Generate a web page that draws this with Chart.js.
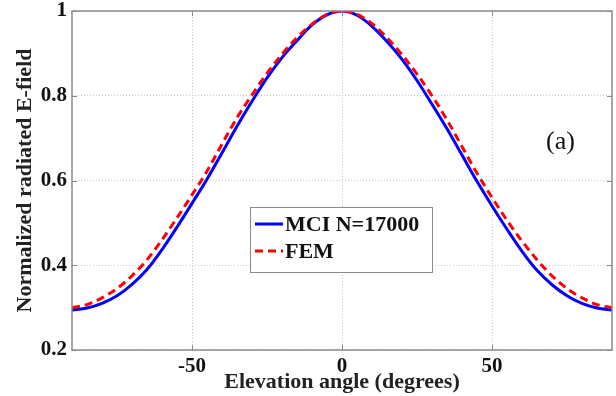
<!DOCTYPE html>
<html>
<head>
<meta charset="utf-8">
<script src="https://cdn.jsdelivr.net/npm/chart.js@4"></script>
<style>
  html, body { margin: 0; padding: 0; background: #fff; }
  #wrap { width: 616px; height: 396px; }
</style>
</head>
<body>
<div id="wrap"><canvas id="myChart" width="616" height="396"></canvas></div>
<script>
// elevation angle (degrees), every 5 deg
const angles = [-90, -85, -80, -75, -70, -65, -60, -55, -50, -45, -40, -35, -30, -25, -20, -15, -10, -5,
    0, 5, 10, 15, 20, 25, 30, 35, 40, 45, 50, 55, 60, 65, 70, 75, 80, 85, 90];

const mciValues = [0.294, 0.299, 0.310, 0.328, 0.355, 0.390, 0.437, 0.490, 0.546, 0.603, 0.665, 0.728, 0.787, 0.842, 0.890, 0.930, 0.967, 0.991,
    1.000, 0.990, 0.964, 0.928, 0.886, 0.836, 0.780, 0.722, 0.660, 0.598, 0.540, 0.485, 0.433, 0.388, 0.354, 0.328, 0.310, 0.299, 0.294];

const femValues = [0.300, 0.307, 0.323, 0.345, 0.375, 0.413, 0.460, 0.512, 0.566, 0.622, 0.686, 0.748, 0.802, 0.853, 0.898, 0.937, 0.969, 0.992,
    1.000, 0.992, 0.970, 0.937, 0.897, 0.851, 0.800, 0.743, 0.680, 0.617, 0.560, 0.506, 0.457, 0.413, 0.375, 0.345, 0.323, 0.307, 0.300];

const seriesLabels = ['MCI N=17000', 'FEM'];
const xTicks = [-50, 0, 50];
const yTicks = [0.2, 0.4, 0.6, 0.8, 1];

const serif = '"Liberation Serif", "Times New Roman", serif';
const frameColor = '#8a8a8a';

const toPoints = vals => angles.map((a, i) => ({ x: a, y: vals[i] }));

// box round the plot, inward ticks, legend and panel tag
const framePlugin = {
    id: 'frame',
    afterDraw(chart) {
        const { ctx, chartArea: a, scales } = chart;
        ctx.save();
        ctx.strokeStyle = frameColor;
        ctx.lineWidth = 1.5;
        ctx.setLineDash([]);
        ctx.strokeRect(a.left, a.top, a.right - a.left, a.bottom - a.top);

        ctx.lineWidth = 1;
        xTicks.forEach(v => {
            const px = Math.round(scales.x.getPixelForValue(v)) + 0.5;
            ctx.beginPath();
            ctx.moveTo(px, a.bottom); ctx.lineTo(px, a.bottom - 5);
            ctx.moveTo(px, a.top); ctx.lineTo(px, a.top + 5);
            ctx.stroke();
        });
        yTicks.forEach(v => {
            const py = Math.round(scales.y.getPixelForValue(v)) + 0.5;
            ctx.beginPath();
            ctx.moveTo(a.left, py); ctx.lineTo(a.left + 5, py);
            ctx.moveTo(a.right, py); ctx.lineTo(a.right - 5, py);
            ctx.stroke();
        });

        // legend
        const lx = 250, ly = 207, lw = 182, lh = 65;
        ctx.fillStyle = '#fff';
        ctx.fillRect(lx, ly, lw, lh);
        ctx.strokeStyle = frameColor;
        ctx.strokeRect(lx + 0.5, ly + 0.5, lw, lh);
        ctx.font = 'bold 22px ' + serif;
        ctx.textBaseline = 'middle';
        ctx.textAlign = 'left';
        const rows = [224, 251];
        [0, 1].forEach(i => {
            const ds = chart.data.datasets[i];
            ctx.strokeStyle = ds.borderColor;
            ctx.lineWidth = ds.borderWidth;
            ctx.setLineDash(ds.borderDash || []);
            ctx.beginPath();
            ctx.moveTo(lx + 5, rows[i]); ctx.lineTo(lx + 33, rows[i]);
            ctx.stroke();
            ctx.fillStyle = '#111';
            ctx.fillText(ds.label, lx + 35, rows[i] + 1);
        });

        ctx.font = '26px ' + serif;
        ctx.fillStyle = '#111';
        ctx.fillText('(a)', 546, 142);
        ctx.restore();
    }
};

const ctx = document.querySelector('#myChart').getContext('2d');
new Chart(ctx, {
    type: 'line',
    data: {
        datasets: [{
            label: seriesLabels[0],
            data: toPoints(mciValues),
            borderColor: '#0000ff',
            borderWidth: 3,
            pointRadius: 0,
            cubicInterpolationMode: 'monotone',
            order: 1
        }, {
            label: seriesLabels[1],
            data: toPoints(femValues),
            borderColor: '#ff0000',
            borderWidth: 3,
            borderDash: [8, 5],
            pointRadius: 0,
            cubicInterpolationMode: 'monotone',
            order: 0
        }]
    },
    options: {
        responsive: false,
        animation: false,
        layout: { padding: { top: 11, right: 4, left: 0, bottom: 0 } },
        plugins: {
            legend: { display: false },
            tooltip: { enabled: false }
        },
        scales: {
            x: {
                type: 'linear',
                min: -90,
                max: 90,
                afterBuildTicks: s => { s.ticks = xTicks.map(v => ({ value: v })); },
                afterFit: s => { s.height = 46; },
                grid: { color: '#c8c8c8', lineWidth: 1, drawTicks: false },
                border: { display: false, dash: [1, 2] },
                ticks: {
                    padding: 4,
                    maxRotation: 0,
                    color: '#111',
                    font: { family: serif, size: 21, weight: 'bold' }
                },
                title: {
                    display: true,
                    text: 'Elevation angle (degrees)',
                    color: '#222',
                    padding: { top: 0, bottom: 0 },
                    font: { family: serif, size: 22, weight: 'bold' }
                }
            },
            y: {
                min: 0.2,
                max: 1,
                afterBuildTicks: s => { s.ticks = yTicks.map(v => ({ value: v })); },
                afterFit: s => { s.width = 72; s.paddingTop = 0; s.paddingBottom = 0; },
                grid: { color: '#c8c8c8', lineWidth: 1, drawTicks: false },
                border: { display: false, dash: [1, 2] },
                ticks: {
                    padding: 5,
                    color: '#111',
                    font: { family: serif, size: 21, weight: 'bold' },
                    callback: v => (v === 1 ? '1' : v.toFixed(1))
                },
                title: {
                    display: true,
                    text: 'Normalized radiated E-field',
                    color: '#222',
                    padding: { top: 12, bottom: 0 },
                    font: { family: serif, size: 22, weight: 'bold' }
                }
            }
        }
    },
    plugins: [framePlugin]
});
</script>
</body>
</html>
